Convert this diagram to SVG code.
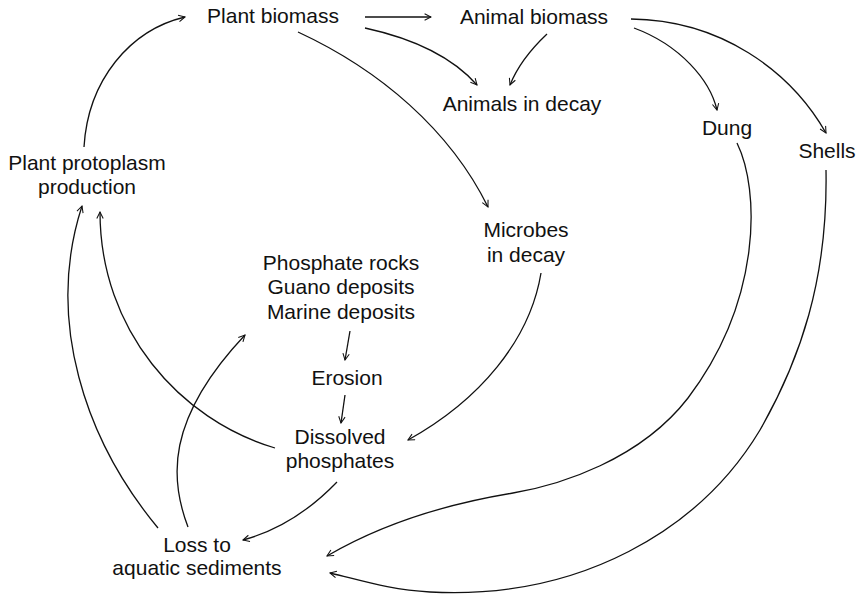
<svg xmlns="http://www.w3.org/2000/svg" width="861" height="596" viewBox="0 0 861 596">
<style>
text{font-family:"Liberation Sans",Arial,sans-serif;font-size:21px;fill:#111;text-anchor:middle}
.c path{fill:none;stroke:#111;stroke-width:1.3;marker-end:url(#a)}
</style>
<defs>
<marker id="a" viewBox="0 0 10 10" refX="9" refY="5" markerWidth="8" markerHeight="8" markerUnits="userSpaceOnUse" orient="auto">
<path d="M1,1 L9,5 L1,9" fill="none" stroke="#111" stroke-width="1.3"/>
</marker>
</defs>
<rect width="861" height="596" fill="#fff"/>
<g id="plant-biomass"><text x="273" y="23">Plant biomass</text></g>
<g id="animal-biomass"><text x="534" y="24">Animal biomass</text></g>
<g id="animals-decay"><text x="522" y="111">Animals in decay</text></g>
<g id="dung"><text x="727" y="135">Dung</text></g>
<g id="shells"><text x="827" y="158">Shells</text></g>
<g id="protoplasm"><text x="87" y="170">Plant protoplasm</text><text x="87" y="194">production</text></g>
<g id="microbes"><text x="526" y="237">Microbes</text><text x="526" y="262">in decay</text></g>
<g id="deposits"><text x="341" y="270">Phosphate rocks</text><text x="341" y="294">Guano deposits</text><text x="341" y="319">Marine deposits</text></g>
<g id="erosion"><text x="347" y="385">Erosion</text></g>
<g id="dissolved"><text x="340" y="444">Dissolved</text><text x="340" y="468">phosphates</text></g>
<g id="loss"><text x="197" y="552">Loss to</text><text x="197" y="575">aquatic sediments</text></g>
<g class="c" id="connectors">
<path d="M84 147 C88 80 130 30 185 17"/>
<path d="M365 17 L431 17"/>
<path d="M365 28 C420 40 455 60 477 85"/>
<path d="M547 34 C530 50 518 65 510 85"/>
<path d="M298 32 C380 70 450 130 488 207"/>
<path d="M634 28 C680 45 710 80 717 110"/>
<path d="M631 19 C720 20 790 70 826 133"/>
<path d="M737 143 C760 190 762 300 688 398 C640 460 560 485 513 493 C440 505 380 525 327 556"/>
<path d="M826 170 C828 280 800 360 760 430 C700 530 580 600 430 592 C390 590 360 580 330 573"/>
<path d="M541 273 C530 340 480 400 408 440"/>
<path d="M350 331 L345 360"/>
<path d="M345 395 L341 423"/>
<path d="M275 448 C180 420 100 330 100 212"/>
<path d="M158 528 C85 440 45 320 82 206"/>
<path d="M188 527 C170 480 165 420 245 335"/>
<path d="M337 482 C310 510 280 530 243 540"/>
</g>
</svg>
